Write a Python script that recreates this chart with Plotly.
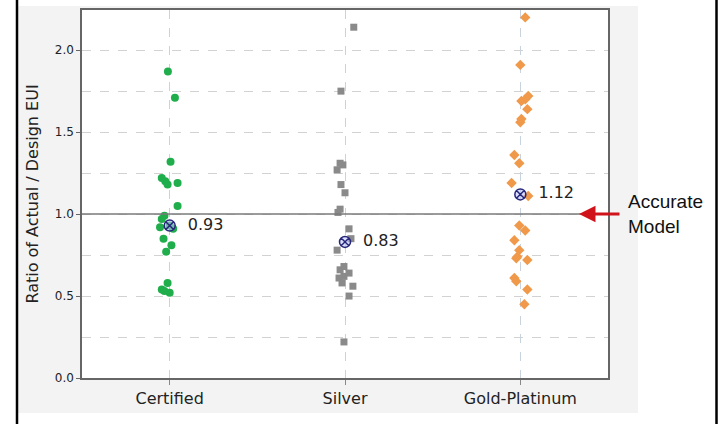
import plotly.graph_objects as go

categories = ["Certified", "Silver", "Gold-Platinum"]

certified_values = [1.87, 1.71, 1.32, 1.22, 1.20, 1.18, 1.19, 1.05, 0.99, 0.97,
                    0.92, 0.91, 0.93, 0.85, 0.81, 0.77, 0.58, 0.54, 0.53, 0.52]
certified_jitter = [-0.01, 0.03, 0.005, -0.045, -0.025, -0.012, 0.045, 0.045, -0.03, -0.045,
                    -0.055, 0.02, 0.0, -0.035, 0.01, -0.02, -0.012, -0.045, -0.03, 0.0]

silver_values = [2.14, 1.75, 1.31, 1.30, 1.27, 1.18, 1.13, 1.03, 1.01, 0.91, 0.85,
                 0.78, 0.68, 0.66, 0.64, 0.62, 0.61, 0.58, 0.56, 0.50, 0.22]
silver_jitter = [0.05, -0.023, -0.028, -0.012, -0.045, -0.023, 0.0, -0.028, -0.04, 0.023, 0.034,
                 -0.045, -0.006, -0.028, 0.023, -0.006, -0.034, -0.017, 0.045, 0.023, -0.006]

gold_values = [2.20, 1.91, 1.72, 1.70, 1.69, 1.64, 1.58, 1.56, 1.36, 1.31, 1.19, 1.11,
               0.93, 0.90, 0.84, 0.78, 0.74, 0.73, 0.72, 0.61, 0.59, 0.54, 0.45]
gold_jitter = [0.028, 0.0, 0.045, 0.028, 0.006, 0.04, 0.006, 0.0, -0.034, -0.006, -0.05, 0.045,
               -0.006, 0.028, -0.034, -0.006, -0.017, -0.023, 0.04, -0.034, -0.023, 0.04, 0.023]

means = [0.93, 0.83, 1.12]
mean_labels = ["0.93", "0.83", "1.12"]
reference_value = 1.0

W, H = 719, 424
ML, MR, MT, MB = 82, 111, 10, 46
PW, PH = W - ML - MR, H - MT - MB


def px_x(p):
    return (p - ML) / PW


def px_y(p):
    return (H - MB - p) / PH


fig = go.Figure()

series = [
    (0, certified_values, certified_jitter, "#1fae4b", "circle", 8),
    (1, silver_values, silver_jitter, "#8a8a8a", "square", 7),
    (2, gold_values, gold_jitter, "#f0994a", "diamond", 8),
]
for idx, vals, jit, col, sym, sz in series:
    fig.add_trace(go.Scatter(
        x=[idx + j for j in jit], y=vals, mode="markers",
        marker=dict(color=col, symbol=sym, size=sz, line=dict(width=0)),
        showlegend=False, hoverinfo="y"))

fig.add_trace(go.Scatter(
    x=list(range(len(categories))), y=means, mode="markers+text",
    text=["  " + t for t in mean_labels], textposition="middle right",
    textfont=dict(family="DejaVu Sans", size=16, color="#222"),
    marker=dict(symbol="circle-x", size=11, color="rgba(190,195,255,0.55)",
                line=dict(color="#27277a", width=1.5)),
    showlegend=False, hoverinfo="y"))

# reference line at ratio 1.0
fig.add_shape(type="line", xref="paper", yref="y", x0=0, x1=1,
              y0=reference_value, y1=reference_value,
              line=dict(color="#7a7a7a", width=1.5), layer="above")

# grey background panel and black frame lines
fig.add_shape(type="rect", xref="paper", yref="paper",
              x0=px_x(17), x1=px_x(638), y0=px_y(413), y1=px_y(6),
              fillcolor="#f3f3f3", line=dict(width=0), layer="below")
fig.add_shape(type="rect", xref="paper", yref="paper",
              x0=0, x1=1, y0=0, y1=1,
              fillcolor="white", line=dict(width=0), layer="below")
fig.add_shape(type="line", xref="paper", yref="paper",
              x0=px_x(17), x1=px_x(17), y0=px_y(424), y1=px_y(0),
              line=dict(color="black", width=2.5))
fig.add_shape(type="line", xref="paper", yref="paper",
              x0=px_x(716.5), x1=px_x(716.5), y0=px_y(424), y1=px_y(0),
              line=dict(color="black", width=2.5))

# Accurate Model annotation with arrow
fig.add_annotation(xref="paper", yref="y", x=px_x(579), y=reference_value,
                   ax=42, ay=0, axref="pixel", ayref="pixel",
                   showarrow=True, arrowhead=2, arrowsize=1.1, arrowwidth=3,
                   arrowcolor="#d0121b", text="")
fig.add_annotation(xref="paper", yref="y", x=px_x(626), y=reference_value,
                   xanchor="left", yanchor="middle", align="left", showarrow=False,
                   text="Accurate<br>Model",
                   font=dict(family="Liberation Sans, Arial", size=19, color="#111"))

fig.update_layout(
    width=W, height=H,
    margin=dict(l=ML, r=MR, t=MT, b=MB, autoexpand=False),
    paper_bgcolor="white", plot_bgcolor="rgba(0,0,0,0)",
    font=dict(family="DejaVu Sans", color="#333"),
    xaxis=dict(range=[-0.5, 2.5], tickvals=list(range(len(categories))), ticktext=categories,
               tickfont=dict(size=16, color="#222"), automargin=False,
               showgrid=True, gridcolor="#c9d3dd", griddash="dash", gridwidth=1,
               showline=True, linecolor="#666", linewidth=1.5, mirror=True,
               ticks="outside", ticklen=5, tickcolor="#888", zeroline=False),
    yaxis=dict(range=[0, 2.245], dtick=0.5, tick0=0, tickformat=".1f",
               tickfont=dict(size=12, color="#222"), automargin=False,
               title=dict(text="Ratio of Actual / Design EUI",
                          font=dict(size=16, color="#222"), standoff=12),
               showgrid=True, gridcolor="#d2d2d2", griddash="dash", gridwidth=1,
               minor=dict(dtick=0.25, showgrid=True, gridcolor="#d2d2d2", griddash="dash"),
               showline=True, linecolor="#666", linewidth=1.5, mirror=True,
               ticks="outside", ticklen=4, tickcolor="#666", zeroline=False),
)

fig.write_html("out.html", config={"displayModeBar": False},
               post_script="document.body.style.margin='0px';document.body.style.padding='0px';")
